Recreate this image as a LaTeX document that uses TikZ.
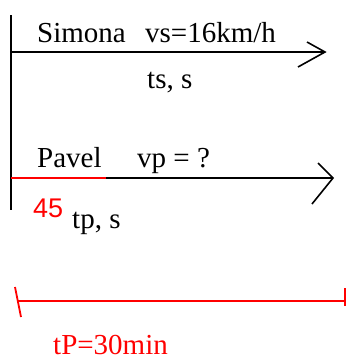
\documentclass[tikz,border=0pt]{standalone}
\usepackage{fontspec}
\setmainfont{Liberation Serif}
\newfontfamily\digitfont{Liberation Sans}
\begin{document}
\begin{tikzpicture}[x=1pt,y=-1pt,
  lbl/.style={anchor=base west,inner sep=0pt,font=\fontsize{29}{32}\selectfont},
  redlbl/.style={lbl,text=red},
  axis/.style={line width=1.6pt},
  redline/.style={red,line width=1.8pt}]
\useasboundingbox (0,0) rectangle (347,359);
\clip (0,0) rectangle (347,359);
% vertical axis
\coordinate (vtop) at (11,15);
\coordinate (vbot) at (11,210);
\draw[line width=1.8pt] (vtop) -- (vbot);
% Simona
\coordinate (s0) at (11,52);
\coordinate (s1) at (325,52);
\coordinate (sa) at (307,42);
\coordinate (sb) at (298,67);
\draw[axis] (s0) -- (s1);
\draw[axis] (sa) -- (s1) -- (sb);
\node[lbl] (simona) at (37,42) {Simona};
\node[lbl] (vs) at (145,42) {vs=16km/h};
\node[lbl] (ts) at (147,88) {ts, s};
% Pavel
\coordinate (p0) at (11,178);
\coordinate (pm) at (106,178);
\coordinate (p1) at (333,178);
\coordinate (pa) at (318,163);
\coordinate (pb) at (312,204);
\draw[axis] (pm) -- (p1);
\draw[redline,line width=1.6pt] (p0) -- (pm);
\draw[axis] (pa) -- (p1) -- (pb);
\node[lbl] (pavel) at (37,167) {Pavel};
\node[lbl] (vp) at (137,167) {vp = ?};
\node[redlbl,font=\digitfont\fontsize{27}{30}\selectfont] (n45) at (33,217) {45};
\node[lbl] (tp) at (72,228) {tp, s};
% red interval
\coordinate (r0) at (17,301);
\coordinate (r1) at (345,301);
\coordinate (t0a) at (15,287);
\coordinate (t0b) at (21,317);
\coordinate (t1a) at (345,288);
\coordinate (t1b) at (345,306);
\draw[redline] (r0) -- (r1);
\draw[redline] (t0a) -- (t0b);
\draw[redline] (t1a) -- (t1b);
\node[redlbl,text depth=0pt,text height=19pt] (tP) at (53,354) {tP=30min};
\end{tikzpicture}
\end{document}
